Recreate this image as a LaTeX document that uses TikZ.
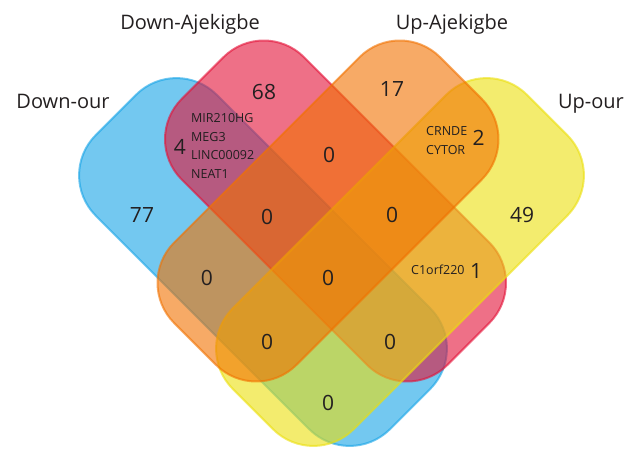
\documentclass[tikz,border=0pt]{standalone}
\usepackage{fontspec}
\setmainfont{Open Sans}
\definecolor{vblue}{RGB}{22,163,230}
\definecolor{vred}{RGB}{227,17,55}
\definecolor{vorange}{RGB}{241,113,0}
\definecolor{vyellow}{RGB}{235,223,13}
\definecolor{ink}{RGB}{35,31,32}
\tikzset{
  setshape/.style={fill=#1, draw=#1, fill opacity=0.6, draw opacity=0.6,
    line width=2pt, rounded corners=57pt},
  setlabel/.style={font=\fontsize{20}{24}\selectfont, text=ink, inner sep=0pt, anchor=base},
  num/.style={font=\fontsize{21}{25}\selectfont, text=ink, inner sep=0pt},
  gene/.style={font=\fontsize{12.5}{15}\selectfont, text=ink, inner sep=0pt, anchor=base west},
}
\begin{document}
\begin{tikzpicture}[x=1pt, y=-1pt]
\useasboundingbox (0,0) rectangle (639,450);

% the four sets, drawn back to front
\begin{scope}[shift={(263,262)}, rotate=-45]
  \path[setshape=vblue] (-208,-85.5) rectangle (208,85.5);
\end{scope}
\begin{scope}[shift={(335.5,211)}, rotate=-45]
  \path[setshape=vred] (-188,-86.5) rectangle (188,86.5);
\end{scope}
\begin{scope}[shift={(400,262)}, rotate=45]
  \path[setshape=vyellow] (-208,-85.5) rectangle (208,85.5);
\end{scope}
\begin{scope}[shift={(328,211)}, rotate=45]
  \path[setshape=vorange] (-188,-86.5) rectangle (188,86.5);
\end{scope}

% set names
\node[setlabel] (lDownOur) at (63,108) {Down-our};
\node[setlabel] (lDownAj) at (190,29.5) {Down-Ajekigbe};
\node[setlabel] (lUpAj) at (452,29.5) {Up-Ajekigbe};
\node[setlabel] (lUpOur) at (591,108) {Up-our};

% region counts
\node[num] (c68) at (264,92) {68};
\node[num] (c17) at (392,89.5) {17};
\node[num] (c4) at (180,147) {4};
\node[num] (c2) at (478.5,138) {2};
\node[num] (c77) at (142,214.5) {77};
\node[num] (c49) at (522,215) {49};
\node[num] (cRO) at (329,154.5) {0};
\node[num] (cBRO) at (267,216.5) {0};
\node[num] (cROY) at (392,215) {0};
\node[num] (cBO) at (207,277.5) {0};
\node[num] (cAll) at (328,278) {0};
\node[num] (c1) at (476,270.5) {1};
\node[num] (cBOY) at (267,342) {0};
\node[num] (cBRY) at (390,342) {0};
\node[num] (cBY) at (328,403) {0};

% shared gene names
\node[gene] (g1) at (191,122) {MIR210HG};
\node[gene] (g2) at (191,141.5) {MEG3};
\node[gene] (g3) at (191,159.5) {LINC00092};
\node[gene] (g4) at (191,178) {NEAT1};
\node[gene] (g5) at (426,135) {CRNDE};
\node[gene] (g6) at (426,154) {CYTOR};
\node[gene] (g7) at (411,274.5) {C1orf220};
\end{tikzpicture}
\end{document}
